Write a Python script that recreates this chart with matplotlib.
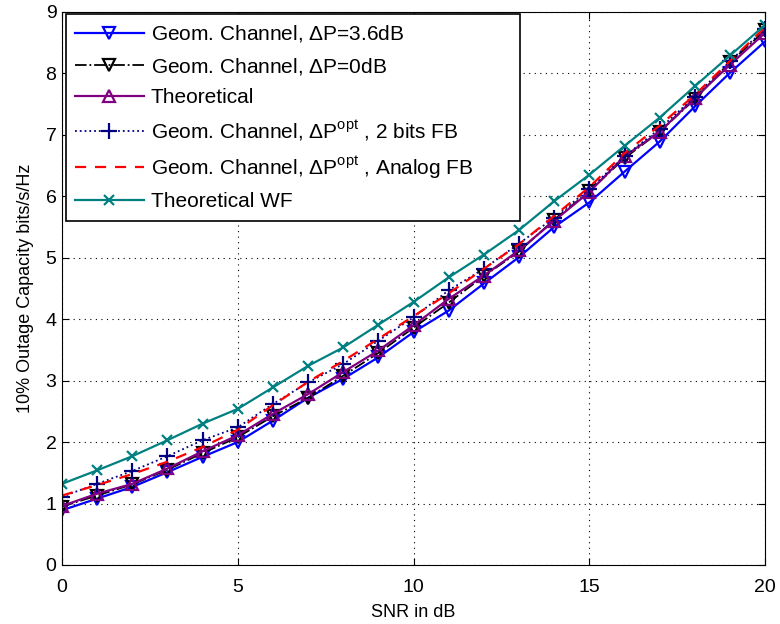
import numpy as np
import matplotlib
matplotlib.use("Agg")
import matplotlib.pyplot as plt

plt.rcParams['font.family'] = ['Liberation Sans', 'DejaVu Sans']
plt.rcParams['mathtext.fontset'] = 'custom'
plt.rcParams['mathtext.rm'] = 'Liberation Sans'

snr = np.arange(0, 21)

# 10% outage capacity
geom_36db = [0.89, 1.08, 1.27, 1.51, 1.76, 2.00, 2.35, 2.72, 3.03, 3.38, 3.79,
             4.14, 4.58, 5.01, 5.50, 5.90, 6.40, 6.89, 7.46, 8.01, 8.52]
geom_0db = [0.95, 1.13, 1.31, 1.55, 1.82, 2.08, 2.42, 2.72, 3.08, 3.45, 3.86,
            4.27, 4.70, 5.10, 5.62, 6.08, 6.62, 7.05, 7.58, 8.18, 8.70]
theoretical = [0.96, 1.16, 1.32, 1.57, 1.85, 2.11, 2.46, 2.78, 3.14, 3.49, 3.90,
               4.33, 4.71, 5.12, 5.60, 6.07, 6.65, 7.05, 7.60, 8.14, 8.66]
geom_2bits = [1.11, 1.32, 1.53, 1.77, 2.03, 2.24, 2.62, 2.97, 3.27, 3.65, 4.03,
              4.47, 4.82, 5.23, 5.65, 6.12, 6.65, 7.10, 7.62, 8.20, 8.72]
geom_analog = [1.13, 1.30, 1.48, 1.68, 1.92, 2.20, 2.60, 2.98, 3.32, 3.68, 4.05,
               4.42, 4.82, 5.22, 5.68, 6.15, 6.70, 7.15, 7.65, 8.20, 8.75]
theoretical_wf = [1.32, 1.54, 1.77, 2.03, 2.30, 2.54, 2.89, 3.24, 3.54, 3.91, 4.28,
                  4.68, 5.05, 5.45, 5.92, 6.35, 6.82, 7.28, 7.79, 8.29, 8.79]

fig = plt.figure(figsize=(7.8, 6.24), dpi=100)
ax = fig.add_axes([0.0795, 0.0946, 0.9015, 0.8864])

ax.plot(snr, geom_36db, color='blue', lw=1.6, marker='v', ms=9, mfc='none', mew=1.6,
        label=r'Geom. Channel, $\Delta$P=3.6dB')
ax.plot(snr, geom_0db, color='black', lw=1.3, ls='-.', marker='v', ms=9, mfc='none', mew=1.6,
        label=r'Geom. Channel, $\Delta$P=0dB')
ax.plot(snr, theoretical, color='purple', lw=1.6, marker='^', ms=9, mfc='none', mew=1.6,
        label='Theoretical')
ax.plot(snr, geom_2bits, color='navy', lw=1.3, ls=':', marker='+', ms=11, mew=1.6,
        label=r'Geom. Channel, $\Delta$P$^{\mathrm{opt}}$ , 2 bits FB')
ax.plot(snr, geom_analog, color='red', lw=1.6, ls=(0, (5, 4)),
        label=r'Geom. Channel, $\Delta$P$^{\mathrm{opt}}$ , Analog FB')
ax.plot(snr, theoretical_wf, color='teal', lw=1.6, marker='x', ms=7, mew=1.6,
        label='Theoretical WF')

ax.set_xlim(0, 20)
ax.set_ylim(0, 9)
ax.set_xticks([0, 5, 10, 15, 20])
ax.set_yticks(range(0, 10))
ax.tick_params(direction='in', top=True, right=True, labelsize=14, length=5)
ax.tick_params(axis='x', pad=10)
ax.tick_params(axis='y', pad=4)
ax.grid(True, color='black', ls=(0, (1, 4)), lw=0.8)
ax.set_xlabel('SNR in dB', fontsize=13, labelpad=6)
ax.set_ylabel('10% Outage Capacity bits/s/Hz', fontsize=13, labelpad=8)

# legend box stretched to the width used in the original
leg = ax.legend(loc='upper left', bbox_to_anchor=(0.005, 0.0, 0.647, 0.996),
                mode='expand', borderaxespad=0.0,
                fontsize=15, frameon=True, fancybox=False,
                edgecolor='black', framealpha=1,
                handlelength=3.3, handletextpad=0.35, labelspacing=0.55,
                borderpad=0.45)
leg.get_frame().set_linewidth(1.2)

fig.savefig('out.png', dpi=100)
